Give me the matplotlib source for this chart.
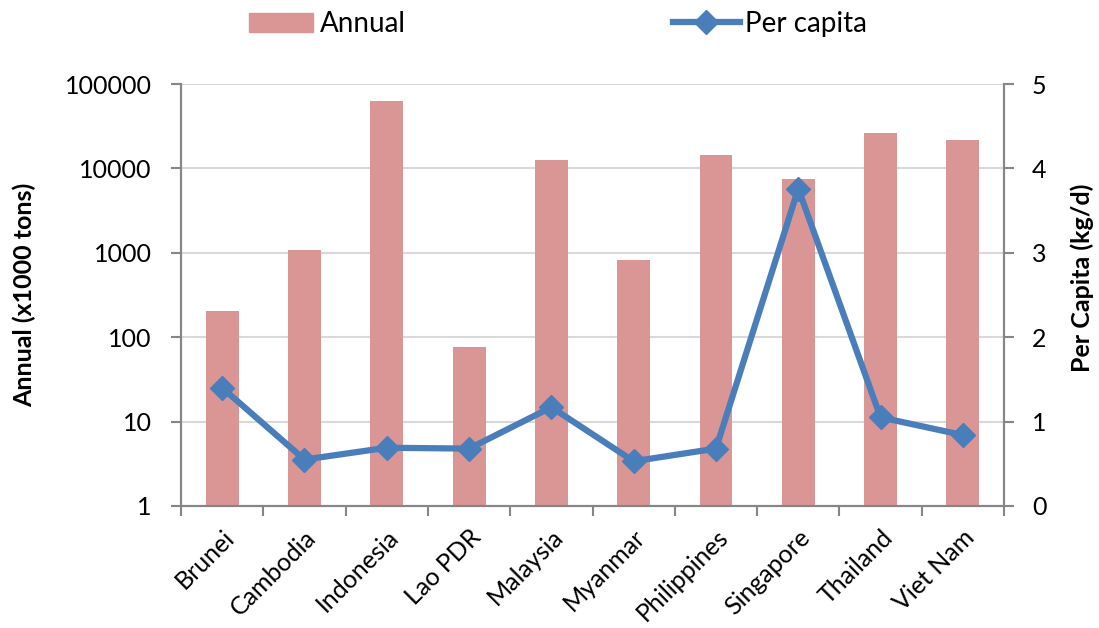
import numpy as np
import matplotlib
matplotlib.use('Agg')
import matplotlib.pyplot as plt
from matplotlib.lines import Line2D
from matplotlib.patches import Patch

plt.rcParams['font.family'] = ['Lato', 'DejaVu Sans']

countries = ['Brunei', 'Cambodia', 'Indonesia', 'Lao PDR', 'Malaysia',
             'Myanmar', 'Philippines', 'Singapore', 'Thailand', 'Viet Nam']
annual = [207, 1080, 63700, 76, 12700, 828, 14500, 7430, 26600, 21800]
per_capita = [1.40, 0.55, 0.69, 0.68, 1.17, 0.53, 0.68, 3.76, 1.05, 0.84]

bar_color = '#D99694'
line_color = '#4A7EBB'
axis_gray = '#868686'

fig = plt.figure(figsize=(10.99, 6.28), dpi=100)
ax = fig.add_axes([0.1647, 0.1943, 0.7489, 0.6719])
ax2 = ax.twinx()

x = np.arange(len(countries))
ax.bar(x, annual, width=0.4, color=bar_color, zorder=2)
ax.set_yscale('log')
ax.set_ylim(1, 100000)
ax.set_xlim(-0.5, len(countries) - 0.5)
ax.set_yticks([1, 10, 100, 1000, 10000, 100000])
ax.set_yticklabels(['1', '10', '100', '1000', '10000', '100000'])
ax.minorticks_off()
ax.yaxis.grid(True, color='#D9D9D9', linewidth=1.5, zorder=0)
ax.set_axisbelow(True)

ax2.plot(x, per_capita, color=line_color, linewidth=4.5, marker='D',
         markersize=12, zorder=3)
ax2.set_ylim(0, 5)
ax2.set_yticks([0, 1, 2, 3, 4, 5])

# x ticks between categories, labels at category centres
ax.set_xticks(np.arange(-0.5, len(countries)), minor=False)
ax.set_xticklabels([])
ax.set_xticks(x, minor=True)
ax.set_xticklabels(countries, minor=True, rotation=45, ha='right',
                   rotation_mode='anchor', fontsize=18)
ax.tick_params(axis='x', which='minor', length=0, pad=14)
ax.tick_params(axis='x', which='major', length=7, width=1.5,
               color=axis_gray, direction='out')

ax.tick_params(axis='y', labelsize=18, length=7, width=1.5, color=axis_gray,
               direction='out', pad=14)
ax2.tick_params(axis='y', labelsize=18, length=7, width=1.5,
                color=axis_gray, direction='out', pad=13)

for a in (ax, ax2):
    a.spines['top'].set_visible(False)
    for side in ('left', 'right', 'bottom'):
        a.spines[side].set_color(axis_gray)
        a.spines[side].set_linewidth(1.5)

ax.set_ylabel('Annual (x1000 tons)', fontsize=18, fontweight='bold',
              va='center', ha='center')
ax.yaxis.set_label_coords(-0.19, 0.5)
ax2.set_ylabel('Per Capita (kg/d)', fontsize=18, fontweight='bold',
               va='center', ha='center')
ax2.yaxis.set_label_coords(1.095, 0.54)

leg1 = fig.legend([Patch(color=bar_color)], ['Annual'], loc='center left',
                  bbox_to_anchor=(249 / 1099, 1 - 24 / 628), frameon=False,
                  fontsize=20, handlelength=2.3, handleheight=0.7,
                  handletextpad=0.25, borderpad=0, borderaxespad=0)
leg2 = fig.legend([Line2D([0], [0], color=line_color, linewidth=4.5,
                          marker='D', markersize=12)], ['Per capita'],
                  loc='center left',
                  bbox_to_anchor=(673 / 1099, 1 - 24 / 628), frameon=False,
                  fontsize=20, handlelength=2.4, handletextpad=0.2,
                  borderpad=0, borderaxespad=0)

fig.savefig('out.png', dpi=100)
